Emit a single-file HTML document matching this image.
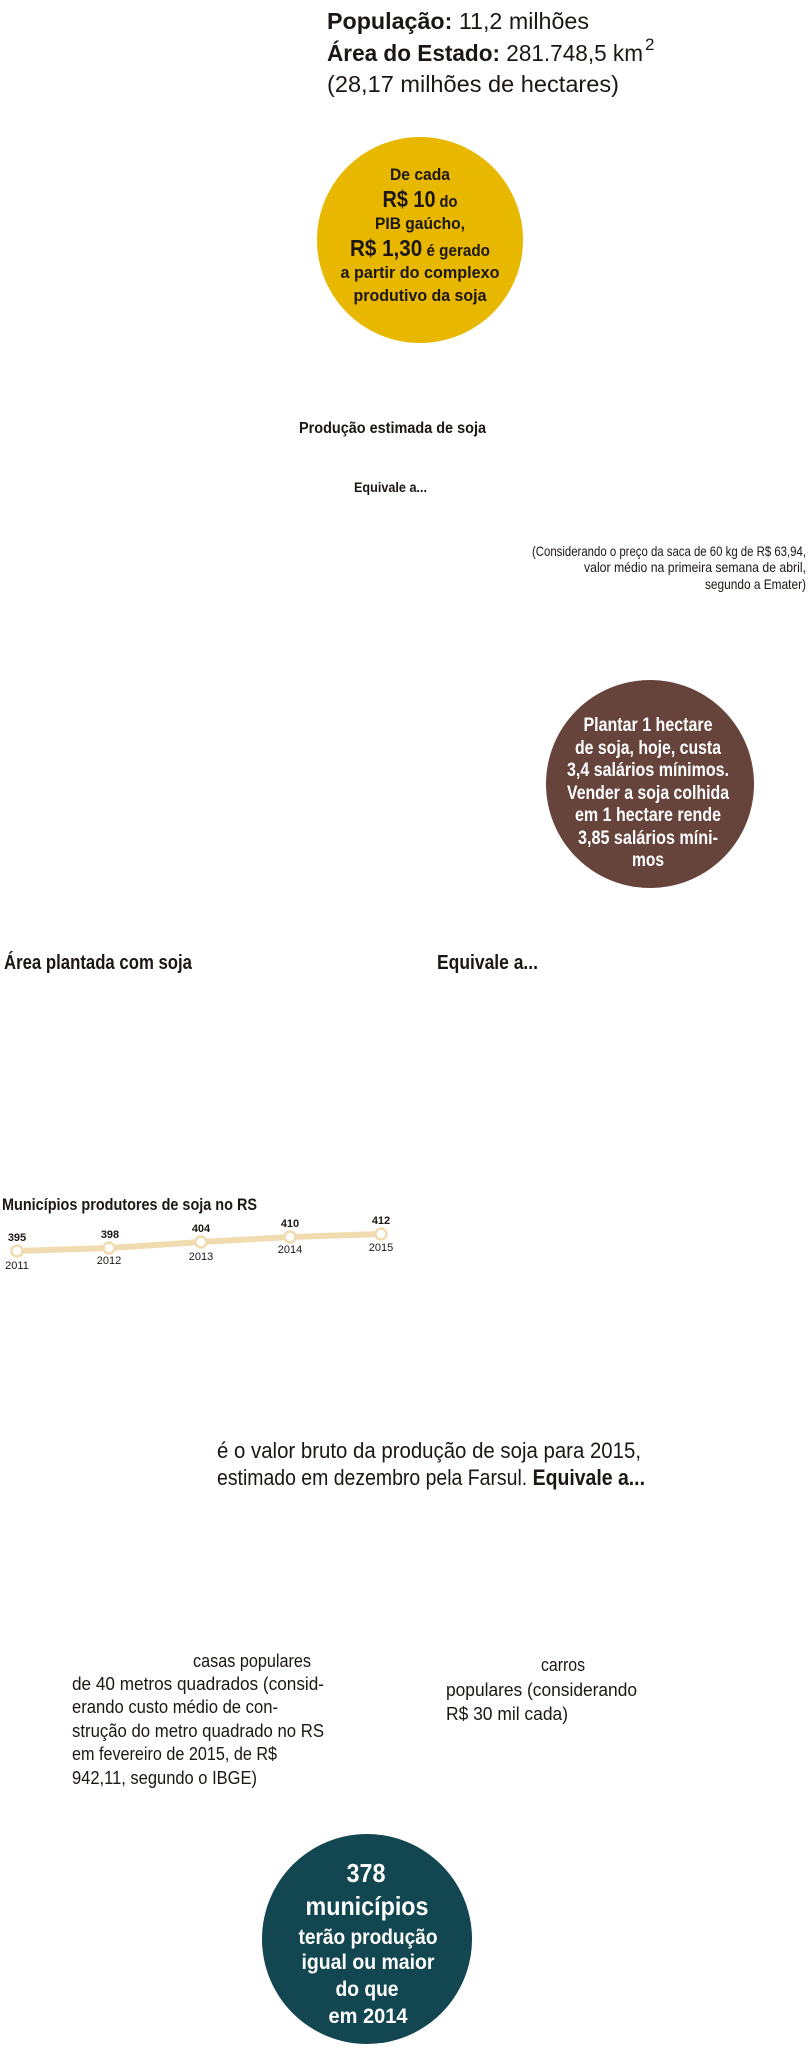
<!DOCTYPE html>
<html><head><meta charset="utf-8"><style>
html,body{margin:0;padding:0;background:#fff;}
svg{display:block;}
text{font-family:"Liberation Sans Narrow","Liberation Sans",sans-serif;fill:#1c1614;}
.b{font-weight:700;}
.w{fill:#fff;font-weight:700;}
</style></head><body>
<svg width="808" height="2048" viewBox="0 0 808 2048" xmlns="http://www.w3.org/2000/svg">
<!-- header -->
<text x="327" y="29" font-size="23" textLength="262" lengthAdjust="spacingAndGlyphs"><tspan class="b">População:</tspan> 11,2 milhões</text>
<text x="327" y="61" font-size="23" textLength="316" lengthAdjust="spacingAndGlyphs"><tspan class="b">Área do Estado:</tspan> 281.748,5 km</text>
<text x="645" y="50" font-size="17">2</text>
<text x="327" y="92" font-size="23" textLength="292" lengthAdjust="spacingAndGlyphs">(28,17 milhões de hectares)</text>

<!-- yellow circle -->
<circle cx="420" cy="240" r="103" fill="#e8b800"/>
<g text-anchor="middle" class="b">
<text x="420" y="180" font-size="17" class="b" textLength="60" lengthAdjust="spacingAndGlyphs">De cada</text>
<text x="420" y="207" font-size="17" class="b" textLength="75" lengthAdjust="spacingAndGlyphs"><tspan font-size="23">R$ 10</tspan> do</text>
<text x="420" y="229" font-size="17" class="b" textLength="90" lengthAdjust="spacingAndGlyphs">PIB gaúcho,</text>
<text x="420" y="256" font-size="17" class="b" textLength="140" lengthAdjust="spacingAndGlyphs"><tspan font-size="23">R$ 1,30</tspan> é gerado</text>
<text x="420" y="278" font-size="17" class="b" textLength="159" lengthAdjust="spacingAndGlyphs">a partir do complexo</text>
<text x="420" y="301" font-size="17" class="b" textLength="133" lengthAdjust="spacingAndGlyphs">produtivo da soja</text>
</g>

<text x="299" y="433" font-size="16" class="b" textLength="187" lengthAdjust="spacingAndGlyphs">Produção estimada de soja</text>
<text x="354" y="492" font-size="14" class="b" textLength="73" lengthAdjust="spacingAndGlyphs">Equivale a...</text>

<g text-anchor="end" font-size="14">
<text x="806" y="556" font-size="14" textLength="274" lengthAdjust="spacingAndGlyphs">(Considerando o preço da saca de 60 kg de R$ 63,94,</text>
<text x="806" y="572" font-size="14" textLength="222" lengthAdjust="spacingAndGlyphs">valor médio na primeira semana de abril,</text>
<text x="806" y="589" font-size="14" textLength="101" lengthAdjust="spacingAndGlyphs">segundo a Emater)</text>
</g>

<!-- brown circle -->
<circle cx="650" cy="784" r="104" fill="#66443b"/>
<g text-anchor="middle" font-size="19">
<text class="w" x="648" y="731" font-size="19" textLength="129" lengthAdjust="spacingAndGlyphs">Plantar 1 hectare</text>
<text class="w" x="648" y="754" font-size="19" textLength="146" lengthAdjust="spacingAndGlyphs">de soja, hoje, custa</text>
<text class="w" x="648" y="776" font-size="19" textLength="162" lengthAdjust="spacingAndGlyphs">3,4 salários mínimos.</text>
<text class="w" x="648" y="799" font-size="19" textLength="162" lengthAdjust="spacingAndGlyphs">Vender a soja colhida</text>
<text class="w" x="648" y="821" font-size="19" textLength="146" lengthAdjust="spacingAndGlyphs">em 1 hectare rende</text>
<text class="w" x="648" y="844" font-size="19" textLength="140" lengthAdjust="spacingAndGlyphs">3,85 salários míni-</text>
<text class="w" x="648" y="866" font-size="19" textLength="32" lengthAdjust="spacingAndGlyphs">mos</text>
</g>

<text x="4" y="969" font-size="20" class="b" textLength="188" lengthAdjust="spacingAndGlyphs">Área plantada com soja</text>
<text x="437" y="969" font-size="20" class="b" textLength="101" lengthAdjust="spacingAndGlyphs">Equivale a...</text>

<!-- chart -->
<text x="2" y="1210" font-size="17" class="b" textLength="255" lengthAdjust="spacingAndGlyphs">Municípios produtores de soja no RS</text>
<polyline points="17,1251 109,1248 201,1242 290,1237 381,1234" fill="none" stroke="#f1dbb0" stroke-width="6" stroke-linejoin="round"/>
<g fill="#fff" stroke="#f1dbb0" stroke-width="2.5">
<circle cx="17" cy="1251" r="5.5"/><circle cx="109" cy="1248" r="5.5"/><circle cx="201" cy="1242" r="5.5"/><circle cx="290" cy="1237" r="5.5"/><circle cx="381" cy="1234" r="5.5"/>
</g>
<g text-anchor="middle" font-size="11">
<text x="17" y="1241" font-size="11" class="b">395</text>
<text x="110" y="1238" font-size="11" class="b">398</text>
<text x="201" y="1232" font-size="11" class="b">404</text>
<text x="290" y="1227" font-size="11" class="b">410</text>
<text x="381" y="1224" font-size="11" class="b">412</text>
<text x="17" y="1269" font-size="11">2011</text>
<text x="109" y="1264" font-size="11">2012</text>
<text x="201" y="1260" font-size="11">2013</text>
<text x="290" y="1253" font-size="11">2014</text>
<text x="381" y="1251" font-size="11">2015</text>
</g>

<text x="217" y="1458" font-size="22" textLength="424" lengthAdjust="spacingAndGlyphs">é o valor bruto da produção de soja para 2015,</text>
<text x="217" y="1485" font-size="22" textLength="428" lengthAdjust="spacingAndGlyphs">estimado em dezembro pela Farsul. <tspan class="b">Equivale a...</tspan></text>

<g font-size="18">
<text x="193" y="1667" font-size="18" textLength="118" lengthAdjust="spacingAndGlyphs">casas populares</text>
<text x="72" y="1690" font-size="18" textLength="252" lengthAdjust="spacingAndGlyphs">de 40 metros quadrados (consid-</text>
<text x="72" y="1713" font-size="18" textLength="206" lengthAdjust="spacingAndGlyphs">erando custo médio de con-</text>
<text x="72" y="1737" font-size="18" textLength="252" lengthAdjust="spacingAndGlyphs">strução do metro quadrado no RS</text>
<text x="72" y="1760" font-size="18" textLength="205" lengthAdjust="spacingAndGlyphs">em fevereiro de 2015, de R$</text>
<text x="72" y="1784" font-size="18" textLength="185" lengthAdjust="spacingAndGlyphs">942,11, segundo o IBGE)</text>
<text x="541" y="1671" font-size="18" textLength="44" lengthAdjust="spacingAndGlyphs">carros</text>
<text x="446" y="1696" font-size="18" textLength="191" lengthAdjust="spacingAndGlyphs">populares (considerando</text>
<text x="446" y="1720" font-size="18" textLength="122" lengthAdjust="spacingAndGlyphs">R$ 30 mil cada)</text>
</g>

<!-- teal circle -->
<circle cx="367" cy="1939" r="105" fill="#124650"/>
<g text-anchor="middle">
<text class="w" x="366" y="1882" font-size="26" textLength="39" lengthAdjust="spacingAndGlyphs">378</text>
<text class="w" x="367" y="1915" font-size="26" textLength="123" lengthAdjust="spacingAndGlyphs">municípios</text>
<text class="w" x="368" y="1944" font-size="21" textLength="139" lengthAdjust="spacingAndGlyphs">terão produção</text>
<text class="w" x="368" y="1969" font-size="21" textLength="133" lengthAdjust="spacingAndGlyphs">igual ou maior</text>
<text class="w" x="367" y="1996" font-size="21" textLength="63" lengthAdjust="spacingAndGlyphs">do que</text>
<text class="w" x="368" y="2023" font-size="21" textLength="79" lengthAdjust="spacingAndGlyphs">em 2014</text>
</g>
</svg>
</body></html>
